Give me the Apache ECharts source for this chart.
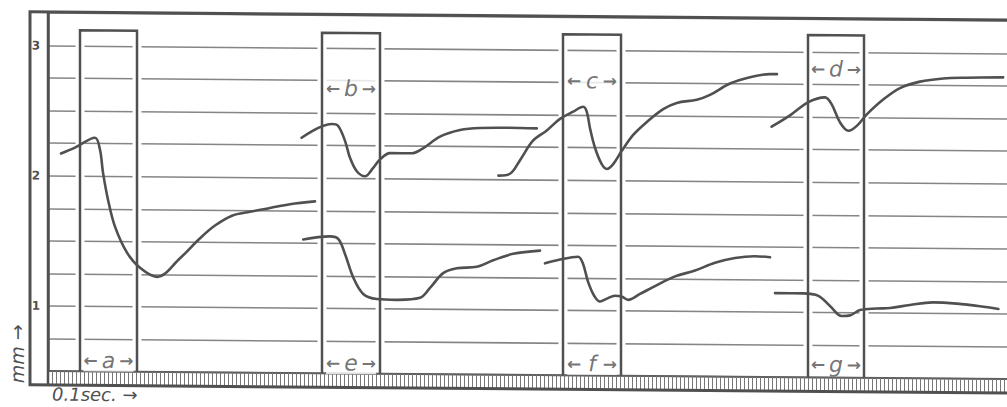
<!DOCTYPE html>
<html><head><meta charset="utf-8">
<script src="https://cdn.jsdelivr.net/npm/echarts@6/dist/echarts.min.js"></script>
<style>html,body{margin:0;padding:0;background:#fff;overflow:hidden}
#c{width:1007px;height:407px;transform:skewY(0.48deg);transform-origin:48px 0}</style>
</head><body><div id="c"></div>
<script>
// stimulus windows (x in ruler ticks, y in mm)
const windowStart = [8, 68.5, 128.75, 190];
const windowEnd = [22.25, 83, 143.25, 204];
const windowTop = [3.12, 3.115, 3.12, 3.13];
const bottomLabels = ['a', 'e', 'f', 'g'];
const bottomLabelY = [0.585, 0.58, 0.59, 0.60];
const topLabels = ['b', 'c', 'd'];
const topLabelWindow = [1, 2, 3];
const topLabelY = [2.69, 2.765, 2.87];
const yTickLabels = [1, 2, 3];

// traced curves [x, mm]
const curveA = [[3.25,2.172],[6.75,2.218],[11.75,2.295],[13,2.203],[13.75,2.027],[15,1.82],[16.75,1.613],[19.75,1.414],[23,1.299],[27.25,1.23],[33,1.375],[38,1.529],[41.75,1.628],[46,1.705],[50.5,1.736],[55.5,1.766],[60.5,1.797],[66.75,1.82]];
const curveB = [[63.4,2.308],[70.9,2.416],[72.5,2.403],[74.25,2.287],[75.5,2.157],[77.2,2.054],[79.25,2.016],[81.25,2.08],[83,2.147],[85.5,2.196],[88.75,2.196],[90.9,2.196],[93.75,2.235],[98,2.326],[103,2.378],[108,2.395],[114.7,2.398],[122.2,2.395]];
const curveE = [[63.8,1.527],[70.5,1.552],[72.6,1.532],[74.25,1.418],[76.3,1.239],[78.8,1.112],[82.2,1.074],[87.2,1.069],[93,1.086],[95.5,1.163],[98.8,1.277],[102.2,1.315],[107.2,1.328],[111.3,1.379],[116.3,1.43],[123,1.456]];
const curveC = [[112.6,2.03],[115.5,2.045],[118,2.15],[121.25,2.3],[124.7,2.38],[128,2.47],[131.3,2.526],[133.8,2.564],[134.7,2.526],[135.5,2.4],[136.75,2.25],[138.4,2.126],[139.7,2.088],[141.3,2.126],[143.4,2.226],[146.3,2.351],[149.7,2.451],[153.8,2.551],[157.2,2.6],[162.2,2.626],[165.5,2.664],[170.5,2.752],[175.5,2.802],[180.5,2.827],[182.25,2.827]];
const curveF = [[124.25,1.359],[128,1.389],[132.5,1.412],[133.75,1.359],[135,1.221],[136.5,1.115],[138,1.069],[139.75,1.092],[141.75,1.115],[143.5,1.107],[145,1.084],[148,1.13],[151.75,1.191],[156.75,1.267],[161.75,1.313],[166.75,1.374],[171.75,1.412],[176.75,1.427],[180.5,1.42]];
const curveD = [[180.9,2.423],[185.5,2.511],[190.1,2.614],[194.25,2.652],[195.9,2.6],[198,2.461],[200.1,2.397],[202.2,2.435],[204.7,2.524],[208.8,2.639],[213,2.728],[218,2.779],[223.8,2.805],[229.7,2.812],[238.8,2.817]];
const curveG = [[181.75,1.145],[188.8,1.145],[192.6,1.127],[195.5,1.05],[198.4,0.974],[200.5,0.979],[203,1.02],[207.2,1.033],[210.5,1.038],[215.5,1.063],[221.3,1.084],[227.2,1.076],[233,1.058],[237.6,1.038]];
const curves = [curveA, curveB, curveE, curveC, curveF, curveD, curveG];

const INK = '#505050';
const series = [];
windowStart.forEach((s, i) => {
  const path = [[s, 0.52], [s, windowTop[i]], [windowEnd[i], windowTop[i]], [windowEnd[i], 0.52]];
  series.push({type: 'line', data: path, symbol: 'none', silent: true, z: 2,
    lineStyle: {color: '#fff', width: 9}});
});
windowStart.forEach((s, i) => {
  const path = [[s, 0.5], [s, windowTop[i]], [windowEnd[i], windowTop[i]], [windowEnd[i], 0.5]];
  series.push({type: 'line', data: path, symbol: 'none', silent: true, z: 3,
    lineStyle: {color: INK, width: 2.5, join: 'miter'}});
});
curves.forEach(c => {
  series.push({type: 'line', data: c, symbol: 'none', smooth: 0.35, silent: true, z: 4,
    lineStyle: {color: INK, width: 2.6, cap: 'round'}});
});
const labelData = [];
bottomLabels.forEach((n, i) => labelData.push({name: n, value: [(windowStart[i] + windowEnd[i]) / 2, bottomLabelY[i]]}));
topLabels.forEach((n, i) => {
  const w = topLabelWindow[i];
  labelData.push({name: n, value: [(windowStart[w] + windowEnd[w]) / 2, topLabelY[i]]});
});
series.push({type: 'scatter', data: labelData, symbolSize: 0, silent: true, z: 5,
  label: {show: true, position: 'inside', backgroundColor: '#fff', padding: [0, 0],
    formatter: p => '{l|←}{m|' + p.name + '}{r|→}',
    rich: {
      l: {width: 15, align: 'left', fontSize: 17, fontWeight: 'bold', color: INK, fontFamily: 'DejaVu Sans'},
      m: {width: 20, align: 'center', fontSize: 22, fontStyle: 'italic', color: INK, fontFamily: 'DejaVu Sans'},
      r: {width: 15, align: 'right', fontSize: 17, fontWeight: 'bold', color: INK, fontFamily: 'DejaVu Sans'}
    }}});

const chart = echarts.init(document.getElementById('c'), null, {renderer: 'svg'});
chart.setOption({
  animation: false,
  backgroundColor: '#fff',
  grid: {left: 48, top: 13, right: 0, bottom: 36, containLabel: false},
  xAxis: {type: 'value', min: 0, max: 239.75, interval: 1,
    axisLine: {show: true, lineStyle: {color: '#606060', width: 2}},
    axisTick: {show: true, inside: false, length: 13, lineStyle: {color: '#777', width: 1}},
    axisLabel: {show: false}, splitLine: {show: false}},
  yAxis: {type: 'value', min: 0.5, max: 3.25, interval: 0.25,
    axisLine: {show: true, lineStyle: {color: INK, width: 2.5}},
    axisTick: {show: false},
    axisLabel: {margin: 8, fontSize: 12, fontWeight: 'bold', color: INK, fontFamily: 'DejaVu Sans',
      formatter: v => yTickLabels.includes(v) ? String(v) : ''},
    splitLine: {show: true, lineStyle: {color: '#858585', width: 1.6}}},
  graphic: [
    {type: 'rect', shape: {x: 30, y: 12, width: 1000, height: 373}, silent: true, z: 10,
      style: {fill: 'none', stroke: INK, lineWidth: 3}},
    {type: 'line', shape: {x1: 48, y1: 12, x2: 48, y2: 385}, silent: true, z: 10,
      style: {stroke: INK, lineWidth: 2.5}},
    {type: 'text', x: 17, y: 354, rotation: Math.PI / 2, silent: true, z: 10,
      style: {text: 'mm →', align: 'center', verticalAlign: 'middle', font: 'italic 19px "DejaVu Sans"', fill: INK}},
    {type: 'text', x: 52, y: 394, silent: true, z: 10,
      style: {text: '0.1sec. →', align: 'left', verticalAlign: 'middle', font: 'italic 18px "DejaVu Sans"', fill: INK}}
  ],
  series: series
});
</script></body></html>
